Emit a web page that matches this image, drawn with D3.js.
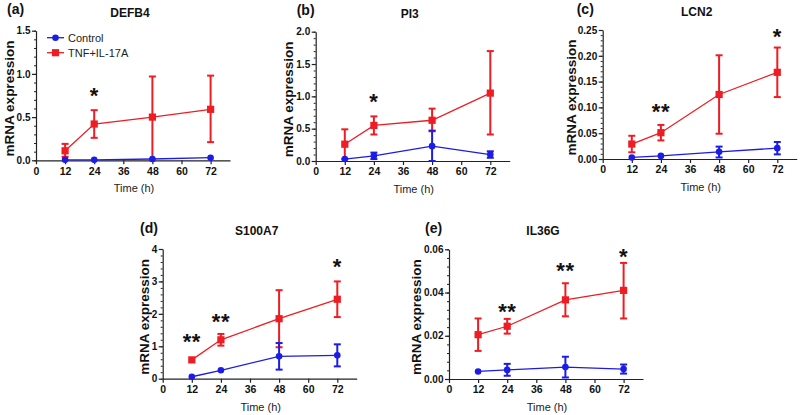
<!DOCTYPE html>
<html>
<head>
<meta charset="utf-8">
<script src="https://cdn.jsdelivr.net/npm/d3@7"></script>
<style>
  body { margin: 0; background: #fff; }
  svg { display: block; font-family: "Liberation Sans", Arial, Helvetica, sans-serif; }
</style>
</head>
<body>
<svg id="chart" width="800" height="415"></svg>
<script>
// ---- data ----
const timePoints = [12, 24, 48, 72];
const xTickLabels = [0, 12, 24, 36, 48, 60, 72];
const seriesNames = ["Control", "TNF+IL-17A"];
const panelLetters = ["(a)", "(b)", "(c)", "(d)", "(e)"];
const geneNames = ["DEFB4", "PI3", "LCN2", "S100A7", "IL36G"];

// mean, lower, upper per time point
const defb4Control = [[0.005, 0.0, 0.01], [0.005, 0.0, 0.01], [0.015, 0.0, 0.03], [0.03, 0.0, 0.06]];
const defb4Tnf     = [[0.11, 0.04, 0.19], [0.42, 0.26, 0.58], [0.50, 0.0, 0.97], [0.59, 0.21, 0.98]];
const pi3Control   = [[0.03, 0.0, 0.06], [0.08, 0.03, 0.13], [0.23, 0.0, 0.47], [0.10, 0.05, 0.15]];
const pi3Tnf       = [[0.26, 0.03, 0.49], [0.55, 0.41, 0.69], [0.63, 0.46, 0.81], [1.05, 0.41, 1.70]];
const lcn2Control  = [[0.003, 0.002, 0.004], [0.006, 0.004, 0.008], [0.014, 0.003, 0.024], [0.021, 0.009, 0.033]];
const lcn2Tnf      = [[0.029, 0.013, 0.045], [0.051, 0.036, 0.066], [0.125, 0.049, 0.201], [0.168, 0.120, 0.216]];
const s100Control  = [[0.06, 0.04, 0.08], [0.26, 0.24, 0.28], [0.69, 0.28, 1.10], [0.72, 0.38, 1.06]];
const s100Tnf      = [[0.58, 0.50, 0.67], [1.20, 1.02, 1.38], [1.85, 0.97, 2.73], [2.45, 1.90, 3.00]];
const il36Control  = [[0.0035, 0.0032, 0.0038], [0.0042, 0.0015, 0.0070], [0.0055, 0.0007, 0.0103], [0.0046, 0.0025, 0.0067]];
const il36Tnf      = [[0.0205, 0.013, 0.028], [0.0244, 0.021, 0.0278], [0.0366, 0.029, 0.0443], [0.041, 0.028, 0.0537]];

const yMax = [1.5, 2.0, 0.25, 4, 0.06];
const yMajorStep = [0.5, 0.5, 0.05, 1, 0.02];
const yMinorStep = [0.1, 0.1, 0.01, 0.2, 0.004];
const yFormats = [".1f", ".1f", ".2f", "d", ".2f"];

// significance marks: [time, y value, label]
const defb4Stars = [[24, 0.80, "*"]];
const pi3Stars   = [[24, 0.99, "*"]];
const lcn2Stars  = [[24, 0.101, "**"], [72, 0.247, "*"]];
const s100Stars  = [[12, 1.30, "**"], [24, 1.89, "**"], [72, 3.6, "*"]];
const il36Stars  = [[24, 0.0332, "**"], [48, 0.0523, "**"], [72, 0.0586, "*"]];

const controlSets = [defb4Control, pi3Control, lcn2Control, s100Control, il36Control];
const tnfSets = [defb4Tnf, pi3Tnf, lcn2Tnf, s100Tnf, il36Tnf];
const starSets = [defb4Stars, pi3Stars, lcn2Stars, s100Stars, il36Stars];

// ---- layout ----
const layout = [
  { x0: 36,    top: 30.7,  bottom: 160.3, ylab: -26.5, plab: -29 },
  { x0: 315.7, top: 31.7,  bottom: 161,   ylab: -27,   plab: -19 },
  { x0: 602.7, top: 30,    bottom: 159,   ylab: -31.5, plab: -26 },
  { x0: 162.7, top: 249,   bottom: 378.7, ylab: -18.5, plab: -22.7 },
  { x0: 449,   top: 249.3, bottom: 379,   ylab: -33,   plab: -24 }
];
const xSpan = 194;
const RED = "#ee1d23";
const BLUE = "#1c1ce6";
const TICK_FONT = 10;

const svg = d3.select("#chart");

layout.forEach((L, i) => {
  const g = svg.append("g");
  const x = d3.scaleLinear().domain([0, 80]).range([L.x0, L.x0 + xSpan]);
  const y = d3.scaleLinear().domain([0, yMax[i]]).range([L.bottom, L.top]);

  // x axis
  const xAxis = d3.axisBottom(x).tickValues(xTickLabels).tickSize(4).tickSizeOuter(0).tickPadding(3);
  const gx = g.append("g").attr("transform", `translate(0,${L.bottom})`).call(xAxis);
  gx.select(".domain").attr("stroke", "#222").attr("stroke-width", 1.2);
  gx.selectAll(".tick line").attr("stroke", "#222").attr("stroke-width", 1.2);
  gx.selectAll(".tick text").attr("font-size", TICK_FONT + 0.5).attr("font-weight", "bold").attr("fill", "#111")
    .attr("font-family", "'Liberation Sans', Arial, sans-serif");

  // y minor ticks
  const minorVals = d3.range(0, yMax[i] + yMinorStep[i] / 2, yMinorStep[i]);
  g.append("g").attr("transform", `translate(${L.x0},0)`)
    .call(d3.axisLeft(y).tickValues(minorVals).tickSize(2).tickFormat(""))
    .call(s => s.select(".domain").remove())
    .selectAll(".tick line").attr("stroke", "#222").attr("stroke-width", 1);

  // y axis major
  const majorVals = d3.range(0, yMax[i] + yMajorStep[i] / 2, yMajorStep[i]);
  const gy = g.append("g").attr("transform", `translate(${L.x0},0)`)
    .call(d3.axisLeft(y).tickValues(majorVals).tickSize(4).tickSizeOuter(0).tickPadding(1.5).tickFormat(d3.format(yFormats[i])));
  gy.select(".domain").attr("stroke", "#222").attr("stroke-width", 1.2);
  gy.selectAll(".tick line").attr("stroke", "#222").attr("stroke-width", 1.2);
  gy.selectAll(".tick text").attr("font-size", TICK_FONT).attr("font-weight", "bold").attr("fill", "#111")
    .attr("font-family", "'Liberation Sans', Arial, sans-serif");

  // axis labels
  g.append("text")
    .attr("transform", `translate(${L.x0 + L.ylab},${(L.top + L.bottom) / 2 + 3}) rotate(-90)`)
    .attr("text-anchor", "middle").attr("dominant-baseline", "central")
    .attr("font-size", 13.5).attr("font-weight", "bold").attr("fill", "#111")
    .text("mRNA expression");
  g.append("text")
    .attr("x", L.x0 + 98).attr("y", L.bottom + 32)
    .attr("text-anchor", "middle").attr("font-size", 11).attr("fill", "#222")
    .text("Time (h)");

  // title and panel letter
  g.append("text")
    .attr("x", L.x0 + 94).attr("y", L.top - 14)
    .attr("text-anchor", "middle").attr("font-size", 12).attr("font-weight", "bold").attr("fill", "#111")
    .text(geneNames[i]);
  g.append("text")
    .attr("x", L.x0 + L.plab).attr("y", L.top - 16.5)
    .attr("font-size", 14).attr("font-weight", "bold").attr("fill", "#111")
    .text(panelLetters[i]);

  const line = d3.line().x((d, k) => x(timePoints[k])).y(d => y(d[0]));

  function drawSeries(data, color, shape) {
    const sg = g.append("g");
    sg.append("path").datum(data).attr("d", line)
      .attr("fill", "none").attr("stroke", color).attr("stroke-width", 1.3);
    data.forEach((d, k) => {
      const cx = x(timePoints[k]);
      const yl = y(d[1]), yu = y(d[2]);
      sg.append("line").attr("x1", cx).attr("x2", cx).attr("y1", yl).attr("y2", yu)
        .attr("stroke", color).attr("stroke-width", 2);
      [yl, yu].forEach(yy => {
        if (Math.abs(yy - y(d[0])) > 3) {
          sg.append("line").attr("x1", cx - 3.5).attr("x2", cx + 3.5).attr("y1", yy).attr("y2", yy)
            .attr("stroke", color).attr("stroke-width", 2);
        }
      });
      if (shape === "circle") {
        sg.append("circle").attr("cx", cx).attr("cy", y(d[0])).attr("r", 3.3).attr("fill", color);
      } else {
        sg.append("rect").attr("x", cx - 3.6).attr("y", y(d[0]) - 3.6).attr("width", 7.2).attr("height", 7.2).attr("fill", color);
      }
    });
  }
  drawSeries(tnfSets[i], RED, "square");
  drawSeries(controlSets[i], BLUE, "circle");

  // stars
  starSets[i].forEach(s => {
    g.append("text")
      .attr("x", x(s[0])).attr("y", y(s[1]) + 12)
      .attr("text-anchor", "middle").attr("font-size", 22).attr("font-weight", "bold").attr("fill", "#111")
      .attr("letter-spacing", 0.5)
      .text(s[2]);
  });

  // legend (panel a only)
  if (i === 0) {
    const lg = g.append("g");
    const entries = [[seriesNames[0], BLUE, "circle"], [seriesNames[1], RED, "square"]];
    entries.forEach((e, k) => {
      const ly = 37.7 + k * 15;
      const lx = L.x0 + 11;
      lg.append("line").attr("x1", lx).attr("x2", lx + 17).attr("y1", ly).attr("y2", ly)
        .attr("stroke", e[1]).attr("stroke-width", 1.3);
      if (e[2] === "circle") {
        lg.append("circle").attr("cx", lx + 8.5).attr("cy", ly).attr("r", 3.3).attr("fill", e[1]);
      } else {
        lg.append("rect").attr("x", lx + 8.5 - 3.6).attr("y", ly - 3.6).attr("width", 7.2).attr("height", 7.2).attr("fill", e[1]);
      }
      lg.append("text").attr("x", lx + 21).attr("y", ly).attr("dominant-baseline", "central")
        .attr("font-size", 11).attr("fill", "#222").text(e[0]);
    });
  }
});
</script>
</body>
</html>
